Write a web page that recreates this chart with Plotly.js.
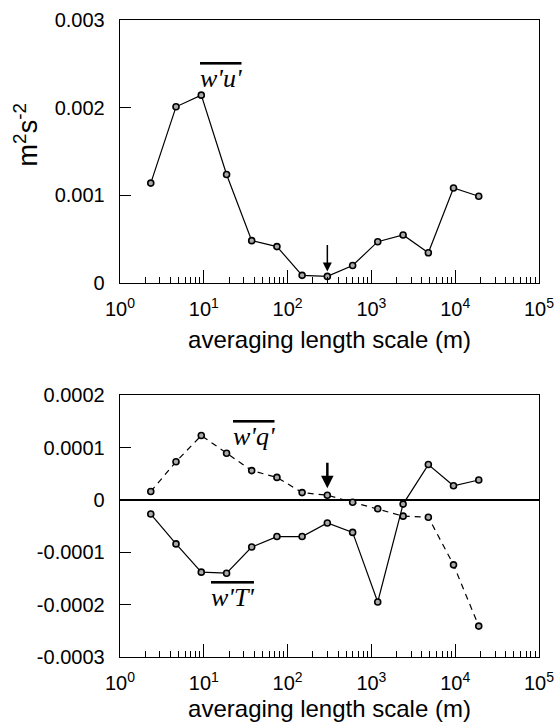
<!DOCTYPE html>
<html>
<head>
<meta charset="utf-8">
<script src="https://cdn.plot.ly/plotly-3.0.1.min.js"></script>
<style>html,body{margin:0;padding:0;background:#fff;}#chart{width:555px;height:727px;}</style>
</head>
<body>
<div id="chart"></div>
<script>
// averaging length scale (m)
const scales = [2.33, 4.66, 9.33, 18.7, 37.3, 74.6, 149, 298, 597, 1190, 2390, 4780, 9550, 19100];
// w'u' (m2 s-2)
const wu = [0.00114, 0.00201, 0.002143, 0.001239, 0.000484, 0.000416, 0.000088, 0.000076, 0.00020, 0.000472, 0.000548, 0.000346, 0.001085, 0.00099];
// w'q'
const wq = [0.000016, 0.000073, 0.000123, 0.000089, 0.000056, 0.000043, 0.000014, 0.000009, -0.0000045, -0.000017, -0.000031, -0.000033, -0.000124, -0.000241];
// w'T'
const wT = [-0.000027, -0.000084, -0.000138, -0.00014, -0.00009, -0.00007, -0.00007, -0.000044, -0.000062, -0.000195, -0.000008, 0.0000675, 0.000027, 0.000038];
// arrow marks the scale
const arrowScale = 298;
const arrowTop = 0.000076;
const arrowBottom = 0.000009;

const xTickVals = [1, 10, 100, 1000, 10000, 100000];
const xTickText = ['10<sup>0</sup>', '10<sup>1</sup>', '10<sup>2</sup>', '10<sup>3</sup>', '10<sup>4</sup>', '10<sup>5</sup>'];
const yTopVals = [0, 0.001, 0.002, 0.003];
const yTopText = ['0', '0.001', '0.002', '0.003'];
const yBotVals = [-0.0003, -0.0002, -0.0001, 0, 0.0001, 0.0002];
const yBotText = ['-0.0003', '-0.0002', '-0.0001', '0', '0.0001', '0.0002'];

const minorVals = [];
for (let d = 1; d < 100000; d *= 10) { for (let k = 2; k <= 9; k++) minorVals.push(k * d); }

const sans = 'Liberation Sans, Arial, Helvetica, sans-serif';
const serif = 'Liberation Serif, Times New Roman, serif';

const markerStyle = {symbol: 'circle', size: 6, color: '#aaaaaa', line: {color: '#000', width: 1.6}};

const traces = [
  {x: scales, y: wu, xaxis: 'x', yaxis: 'y', type: 'scatter', mode: 'lines+markers',
   line: {color: '#000', width: 1.2}, marker: markerStyle, hoverinfo: 'skip'},
  {x: scales, y: wq, xaxis: 'x2', yaxis: 'y2', type: 'scatter', mode: 'lines+markers',
   line: {color: '#000', width: 1.2, dash: '6px,5px'}, marker: markerStyle, hoverinfo: 'skip'},
  {x: scales, y: wT, xaxis: 'x2', yaxis: 'y2', type: 'scatter', mode: 'lines+markers',
   line: {color: '#000', width: 1.2}, marker: markerStyle, hoverinfo: 'skip'}
];

function xAxis(anchor, standoff) {
  return {
    anchor: anchor, type: 'log', range: [0, 5], domain: [0, 1],
    showline: true, linecolor: '#000', linewidth: 1.3, mirror: true,
    showgrid: false, zeroline: false,
    ticks: 'inside', ticklen: 13, tickwidth: 1, tickcolor: '#000',
    tickmode: 'array', tickvals: xTickVals, ticktext: xTickText,
    ticklabelstandoff: 8, ticklabeloverflow: 'allow',
    tickfont: {family: sans, size: 20, color: '#000'},
    minor: {ticks: 'inside', ticklen: 6, tickwidth: 1, tickcolor: '#000', tickmode: 'array', tickvals: minorVals, showgrid: false},
    title: {text: 'averaging length scale (m)', font: {family: sans, size: 24, color: '#000'}, standoff: standoff},
    automargin: false
  };
}
function yAxis(anchor, domain, range, vals, text) {
  return {
    anchor: anchor, domain: domain, range: range,
    showline: true, linecolor: '#000', linewidth: 1.3, mirror: true,
    showgrid: false, zeroline: false,
    ticks: 'inside', ticklen: 11, tickwidth: 1, tickcolor: '#000',
    tickmode: 'array', tickvals: vals, ticktext: text,
    ticklabelstandoff: 10,
    tickfont: {family: sans, size: 20, color: '#000'},
    automargin: false
  };
}

const yaxis2 = yAxis('x2', [0, 0.411], [-0.0003, 0.0002], yBotVals, yBotText);
yaxis2.zeroline = true; yaxis2.zerolinecolor = '#000'; yaxis2.zerolinewidth = 1.5;

const ovl = t => '<span style="text-decoration:overline"><i>' + t + '</i></span>';

const layout = {
  width: 555, height: 727,
  margin: {l: 120, r: 16, t: 20, b: 70},
  paper_bgcolor: '#fff', plot_bgcolor: '#fff',
  showlegend: false,
  xaxis: xAxis('y', 11),
  yaxis: yAxis('x', [0.587, 1], [0, 0.003], yTopVals, yTopText),
  xaxis2: xAxis('y2', 7),
  yaxis2: yaxis2,
  annotations: [
    {xref: 'paper', yref: 'paper', x: -0.225, y: 0.82, xanchor: 'center', yanchor: 'middle',
     text: 'm<sup>2</sup>s<sup>-2</sup>', textangle: -90, showarrow: false,
     font: {family: sans, size: 27, color: '#000'}},
    {xref: 'x', yref: 'y', x: Math.log10(16.1), y: 0.00233, text: ovl("w'u'"),
     showarrow: false, font: {family: serif, size: 26, color: '#000'}, xanchor: 'center', yanchor: 'middle'},
    {xref: 'x2', yref: 'y2', x: Math.log10(40), y: 0.000121, text: ovl("w'q'"),
     showarrow: false, font: {family: serif, size: 26, color: '#000'}, xanchor: 'center', yanchor: 'middle'},
    {xref: 'x2', yref: 'y2', x: Math.log10(21.7), y: -0.000187, text: ovl("w'T'"),
     showarrow: false, font: {family: serif, size: 26, color: '#000'}, xanchor: 'center', yanchor: 'middle'},
    {xref: 'x', yref: 'y', x: Math.log10(arrowScale), y: arrowTop, text: '', showarrow: true,
     axref: 'pixel', ayref: 'pixel', ax: 0, ay: -33, arrowhead: 2, arrowsize: 1.2, arrowwidth: 1.5, arrowcolor: '#000', standoff: 5},
    {xref: 'x2', yref: 'y2', x: Math.log10(arrowScale), y: arrowBottom, text: '', showarrow: true,
     axref: 'pixel', ayref: 'pixel', ax: 0, ay: -34, arrowhead: 2, arrowsize: 1, arrowwidth: 2.5, arrowcolor: '#000', standoff: 7}
  ]
};

Plotly.newPlot('chart', traces, layout, {staticPlot: true, displayModeBar: false});
</script>
</body>
</html>
